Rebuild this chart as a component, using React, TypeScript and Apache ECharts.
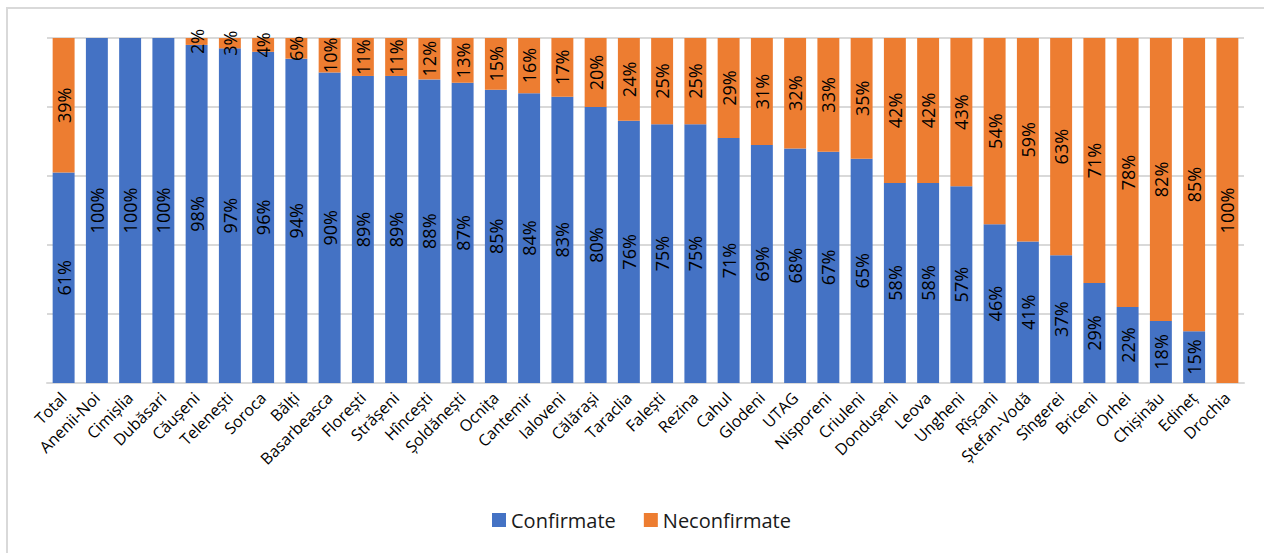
import React, { useEffect, useRef } from "react";
import * as echarts from "echarts";

const categories = [
  "Total", "Anenii-Noi", "Cimișlia", "Dubăsari", "Căușeni", "Telenești", "Soroca", "Bălți",
  "Basarbeasca", "Florești", "Strășeni", "Hîncești", "Șoldănești", "Ocnița", "Cantemir",
  "Ialoveni", "Călărași", "Taraclia", "Falești", "Rezina", "Cahul", "Glodeni", "UTAG",
  "Nisporeni", "Criuleni", "Dondușeni", "Leova", "Ungheni", "Rîșcani", "Ștefan-Vodă",
  "Sîngerei", "Briceni", "Orhei", "Chișinău", "Edineț", "Drochia",
];

const confirmate = [
  61, 100, 100, 100, 98, 97, 96, 94, 90, 89, 89, 88, 87, 85, 84, 83, 80, 76, 75, 75,
  71, 69, 68, 67, 65, 58, 58, 57, 46, 41, 37, 29, 22, 18, 15, 0,
];

const neconfirmate = [
  39, 0, 0, 0, 2, 3, 4, 6, 10, 11, 11, 12, 13, 15, 16, 17, 20, 24, 25, 25,
  29, 31, 32, 33, 35, 42, 42, 43, 54, 59, 63, 71, 78, 82, 85, 100,
];

const seriesNames = ["Confirmate", "Neconfirmate"];
const colors = ["#4472C4", "#ED7D31"];

const FONT = "'Open Sans', 'Noto Sans', sans-serif";

export default function App() {
  const ref = useRef<HTMLDivElement>(null);

  useEffect(() => {
    if (!ref.current) return;
    const chart = echarts.init(ref.current, undefined, { renderer: "svg" });
    const labelCfg = {
      show: true,
      position: "inside" as const,
      rotate: 90,
      color: "#000",
      fontFamily: FONT,
      fontSize: 18,
      formatter: (p: any) => (p.value > 0 ? `${p.value}%` : ""),
    };
    chart.setOption({
      animation: false,
      backgroundColor: "#fff",
      color: colors,
      grid: { left: 47, right: 20, top: 38, bottom: 170, containLabel: false },
      legend: {
        data: seriesNames,
        left: 487,
        top: 505,
        itemWidth: 14,
        itemHeight: 14,
        itemGap: 28,
        icon: "rect",
        textStyle: { fontFamily: FONT, fontSize: 20, color: "#1a1a1a" },
      },
      xAxis: {
        type: "category",
        data: categories,
        axisTick: { show: false },
        axisLine: { lineStyle: { color: "#d9d9d9", width: 2 } },
        axisLabel: {
          interval: 0,
          rotate: 45,
          margin: 12,
          color: "#000",
          fontFamily: FONT,
          fontSize: 16,
        },
      },
      yAxis: {
        type: "value",
        min: 0,
        max: 100,
        interval: 20,
        axisLabel: { show: false },
        axisLine: { show: false },
        axisTick: { show: false },
        splitLine: { lineStyle: { color: "#d9d9d9", width: 2 } },
      },
      series: [
        {
          name: seriesNames[0],
          type: "bar",
          stack: "total",
          data: confirmate,
          barCategoryGap: "34%",
          label: labelCfg,
        },
        {
          name: seriesNames[1],
          type: "bar",
          stack: "total",
          data: neconfirmate,
          barCategoryGap: "34%",
          label: labelCfg,
        },
      ],
    });
    return () => chart.dispose();
  }, []);

  return (
    <>
      <div
        style={{
          position: "absolute",
          left: 0,
          top: 0,
          width: 1264,
          height: 553,
        }}
        ref={ref}
      />
      <div
        style={{
          position: "absolute",
          left: 6,
          top: 7,
          width: 1258,
          height: 546,
          borderTop: "2px solid #d9d9d9",
          borderLeft: "2px solid #d9d9d9",
          boxSizing: "border-box",
          pointerEvents: "none",
        }}
      />
    </>
  );
}
